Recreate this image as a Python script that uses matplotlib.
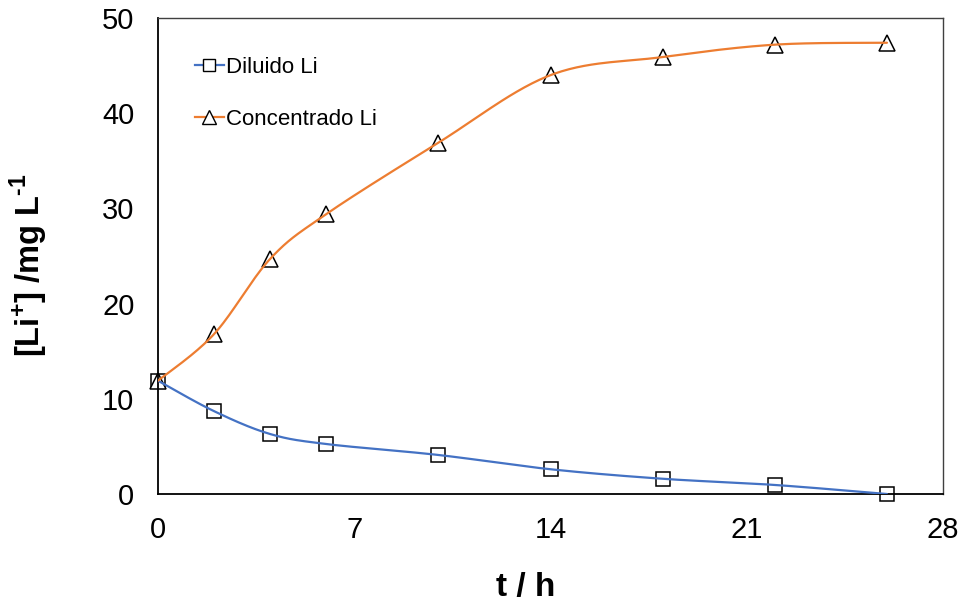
import numpy as np
import matplotlib
matplotlib.use("Agg")
import matplotlib.pyplot as plt
from matplotlib.lines import Line2D

plt.rcParams['font.family'] = ['Liberation Sans', 'DejaVu Sans']
plt.rcParams['mathtext.fontset'] = 'custom'
plt.rcParams['mathtext.rm'] = 'Liberation Sans'
plt.rcParams['mathtext.bf'] = 'Liberation Sans:bold'

t_h = [0, 2, 4, 6, 10, 14, 18, 22, 26]
diluido = [11.9, 8.7, 6.3, 5.25, 4.1, 2.6, 1.6, 0.95, 0.0]
concentrado = [11.9, 16.8, 24.7, 29.4, 36.9, 44.0, 45.9, 47.2, 47.4]

x_ticks = [0, 7, 14, 21, 28]
y_ticks = [0, 10, 20, 30, 40, 50]

BLUE = '#4472C4'
ORANGE = '#ED7D31'


def smooth_curve(x, y, n=30):
    """Catmull-Rom style cubic Bezier smoothing through every point."""
    x = np.asarray(x, float)
    y = np.asarray(y, float)
    px, py = [], []
    k = len(x)
    for i in range(k - 1):
        x0, y0 = (x[i - 1], y[i - 1]) if i > 0 else (x[i], y[i])
        x1, y1 = x[i], y[i]
        x2, y2 = x[i + 1], y[i + 1]
        x3, y3 = (x[i + 2], y[i + 2]) if i + 2 < k else (x[i + 1], y[i + 1])
        c1x = x1 + (x2 - x0) / 6.0
        c1y = y1 + (y2 - y0) / 6.0
        c2x = x2 - (x3 - x1) / 6.0
        c2y = y2 - (y3 - y1) / 6.0
        s = np.linspace(0, 1, n, endpoint=(i == k - 2))
        bx = (1 - s) ** 3 * x1 + 3 * (1 - s) ** 2 * s * c1x + 3 * (1 - s) * s ** 2 * c2x + s ** 3 * x2
        by = (1 - s) ** 3 * y1 + 3 * (1 - s) ** 2 * s * c1y + 3 * (1 - s) * s ** 2 * c2y + s ** 3 * y2
        px.extend(bx)
        py.extend(by)
    return np.array(px), np.array(py)


fig = plt.figure(figsize=(9.62, 6.08), dpi=100)
ax = fig.add_axes([158 / 962, 1 - 494 / 608, (943 - 158) / 962, (494 - 18) / 608])

for yv, col in ((diluido, BLUE), (concentrado, ORANGE)):
    sx, sy = smooth_curve(t_h, yv)
    ax.plot(sx, sy, color=col, lw=1.6, zorder=3, solid_capstyle='round')

ax.plot(t_h, diluido, ls='none', marker='s', ms=9.5, mfc='white', mec='black', mew=1.1, zorder=2, clip_on=False)
ax.plot(t_h, concentrado, ls='none', marker='^', ms=11, mfc='white', mec='black', mew=1.1, zorder=2, clip_on=False)

ax.set_xlim(0, 28)
ax.set_ylim(0, 50)
ax.set_xticks(x_ticks)
ax.set_yticks(y_ticks)
ax.tick_params(length=0, labelsize=21, colors='black')
ax.tick_params(axis='y', pad=17)
ax.tick_params(axis='x', pad=16)
for side in ('left', 'bottom'):
    ax.spines[side].set_color('black')
    ax.spines[side].set_linewidth(1.3)
for side in ('top', 'right'):
    ax.spines[side].set_color('#404040')
    ax.spines[side].set_linewidth(1.0)

ax.set_xlabel('t / h', fontsize=24, fontweight='bold')
ax.xaxis.set_label_coords(0.469, -0.197)
ax.xaxis.label.set_va('center')
ylabel = r'[Li$^{\mathbf{+}}$] /mg L$^{\mathbf{' + '\u2010' + r'1}}$'
ax.set_ylabel(ylabel, fontsize=23.5, fontweight='bold')
ax.yaxis.set_label_coords(-0.165, 0.481)
ax.yaxis.label.set_va('center')

handles = [
    Line2D([], [], color=BLUE, lw=1.6, marker='s', ms=8.5, mfc='white', mec='black', mew=1.0),
    Line2D([], [], color=ORANGE, lw=1.6, marker='^', ms=9.5, mfc='white', mec='black', mew=1.0),
]
ax.legend(handles, ['Diluido Li', 'Concentrado Li'], loc='upper left', bbox_to_anchor=(0.047, 0.918),
          frameon=False, fontsize=16, handlelength=1.3, handletextpad=0.1, labelspacing=1.4,
          borderaxespad=0, borderpad=0)

fig.savefig('out.png', dpi=100)
